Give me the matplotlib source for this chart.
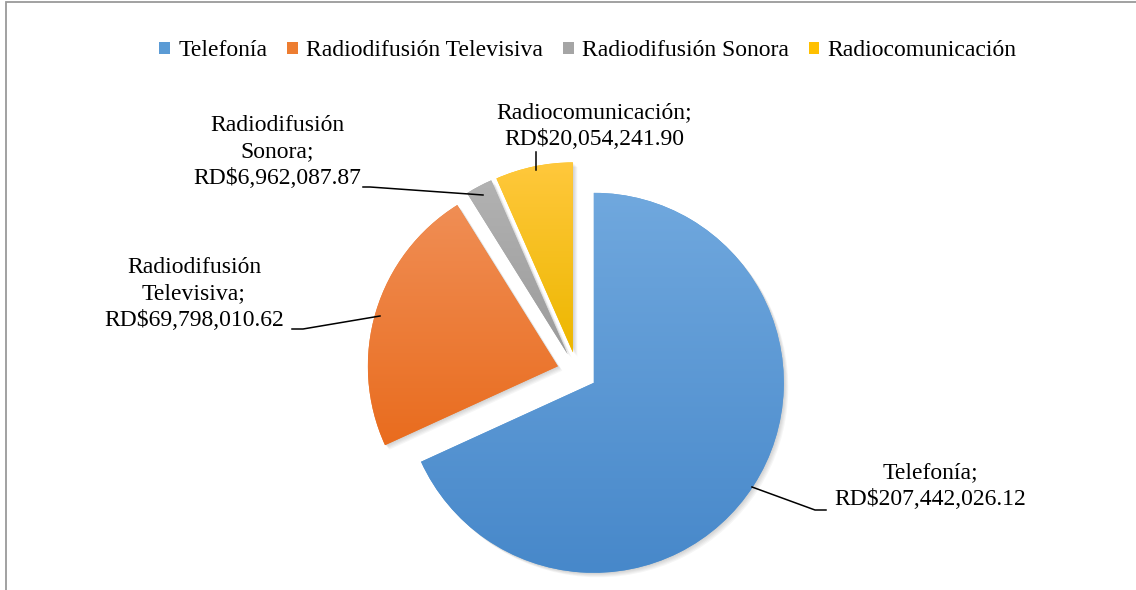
import matplotlib
matplotlib.use("Agg")
import matplotlib.pyplot as plt
import numpy as np
from matplotlib.patches import Patch, Rectangle, Wedge
from matplotlib.colors import to_rgb

plt.rcParams['font.family'] = ['Liberation Serif', 'DejaVu Serif']
SERIF = ['Liberation Serif', 'DejaVu Serif']

categories = ["Telefonía", "Radiodifusión Televisiva", "Radiodifusión Sonora", "Radiocomunicación"]
values = [207442026.12, 69798010.62, 6962087.87, 20054241.90]
colors = ["#5B9BD5", "#ED7D31", "#A5A5A5", "#FFC000"]
top_colors = ["#70A8DE", "#F08E55", "#B2B2B2", "#FFC83C"]
bottom_colors = ["#4788CA", "#E96C1E", "#9B9B9B", "#EDB700"]

W, H = 1136, 590
fig = plt.figure(figsize=(W / 100, H / 100), dpi=100)
ax = fig.add_axes([0, 0, 1, 1])

center = (577, H - 372)
radius = 190
explode = [20] * len(values)

wedges, _ = ax.pie(values, startangle=90, counterclock=False, explode=explode,
                   radius=radius, center=center, colors=colors,
                   wedgeprops=dict(linewidth=0))

# shadows + gradients
for w, tc, bc in zip(wedges, top_colors, bottom_colors):
    for k in range(1, 6):
        sh = Wedge((w.center[0] + k * 0.9, w.center[1] - k * 0.9), w.r, w.theta1, w.theta2,
                   facecolor='black', alpha=0.035, linewidth=0, zorder=0.5)
        ax.add_patch(sh)
    w.set_zorder(1)
    bb = w.get_path().get_extents(w.get_patch_transform())
    n = 256
    t = np.linspace(0, 1, n)[:, None]
    c0 = np.array(to_rgb(tc)); c1 = np.array(to_rgb(bc))
    grad = (c0[None, :] * (1 - t) + c1[None, :] * t)[:, None, :]
    im = ax.imshow(grad, extent=(bb.x0, bb.x1, bb.y0, bb.y1), origin='upper',
                   aspect='auto', zorder=1.1, interpolation='bilinear')
    im.set_clip_path(w)

# data labels
label_pos = [(930, H - 486), (194, H - 294), (277, H - 152), (594, H - 126)]
wrap = [False, True, True, False]
for cat, val, (lx, ly), wr in zip(categories, values, label_pos, wrap):
    name = cat.replace(" ", "\n") if wr else cat
    txt = f"{name};\nRD${val:,.2f}"
    ax.text(lx, ly, txt, ha='center', va='center', fontsize=17, linespacing=1.34,
            color='black', zorder=3, family=SERIF)

# leader lines
leaders = [
    [(752, 487), (815, 510), (826, 510)],
    [(292, 329), (303, 329), (380, 316)],
    [(363, 187), (370, 187), (483, 195)],
    [(536, 152), (536, 170)],
]
for seg in leaders:
    xs = [p[0] for p in seg]
    ys = [H - p[1] for p in seg]
    ax.plot(xs, ys, color='black', linewidth=1.1, zorder=2.5)

ax.set_xlim(0, W)
ax.set_ylim(0, H)
ax.axis('off')

# chart frame
fig.patches.append(Rectangle((6 / W, -0.1), 1.2, 1 - 2.5 / H + 0.1, transform=fig.transFigure,
                             fill=False, edgecolor='#9A9A9A', linewidth=1.3))

handles = [Patch(facecolor=c, edgecolor='none') for c in colors]
leg = fig.legend(handles, categories, loc='center', bbox_to_anchor=(588 / W, 1 - 51 / H),
                 ncol=4, frameon=False, prop=dict(family=SERIF, size=17),
                 handlelength=0.45, handleheight=0.45,
                 handletextpad=0.35, columnspacing=0.85)

fig.savefig("out.png", dpi=100)
